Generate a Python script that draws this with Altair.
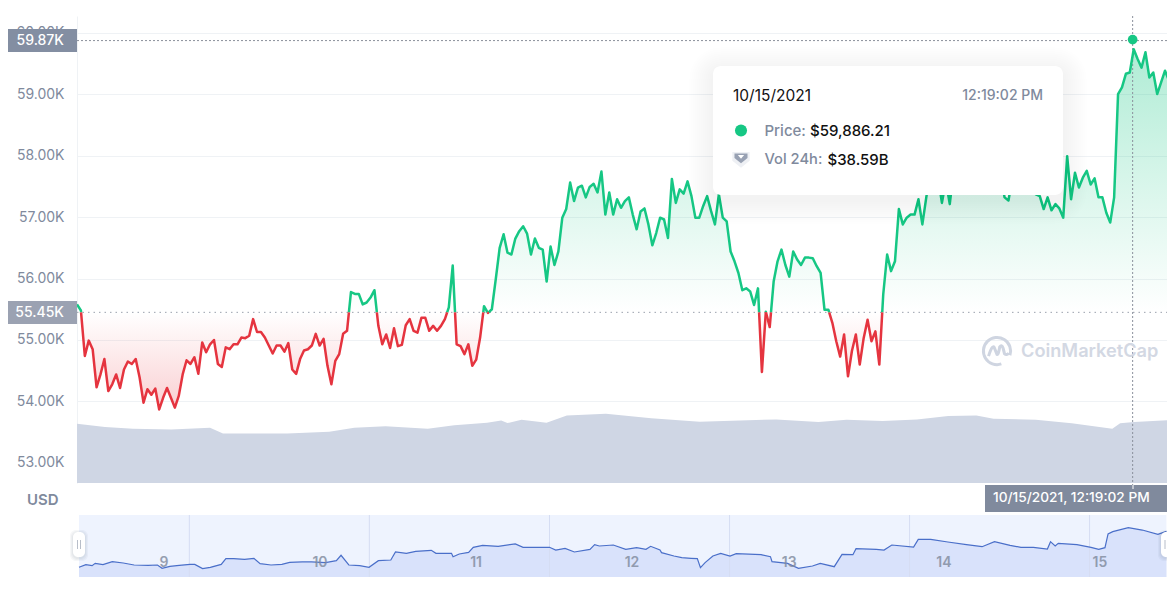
import altair as alt
import pandas as pd

# ---- main price series (USD thousands), one reading per regular time step
start_day = 8.456
step_day = 0.02504
prices = [
55.58,55.48,54.74,54.99,54.85,54.23,54.44,54.69,54.17,54.28,
54.44,54.22,54.52,54.65,54.61,54.69,54.39,53.98,54.20,54.11,
54.21,53.87,54.06,54.22,54.06,53.90,54.09,54.44,54.67,54.61,
54.72,54.45,54.96,54.80,54.93,55.00,54.61,54.56,54.88,54.85,
54.93,54.93,55.04,55.03,55.07,55.34,55.13,55.13,55.04,54.91,
54.78,54.91,54.91,54.81,54.95,54.52,54.45,54.69,54.83,54.85,
54.91,55.10,54.91,55.02,54.58,54.28,54.66,54.77,55.10,55.15,
55.78,55.75,55.75,55.58,55.61,55.69,55.81,55.23,54.93,55.09,
54.87,55.19,54.90,54.92,55.24,55.34,55.15,55.12,55.36,55.36,
55.15,55.23,55.15,55.23,55.34,55.53,56.21,54.93,54.90,54.77,
54.93,54.58,54.68,55.04,55.55,55.44,55.50,55.99,56.50,56.72,
56.42,56.39,56.65,56.77,56.85,56.73,56.39,56.65,56.50,56.47,
55.95,56.52,56.22,56.44,56.99,57.13,57.56,57.26,57.48,57.51,
57.32,57.49,57.54,57.40,57.74,57.04,57.40,57.04,57.29,57.15,
57.26,57.32,57.04,56.80,57.09,57.14,56.88,56.54,56.74,56.99,
56.96,56.66,57.62,57.23,57.45,57.38,57.58,57.34,56.99,56.99,
57.18,57.34,57.10,56.88,57.37,56.99,56.93,56.44,56.28,56.09,
55.81,55.84,55.79,55.57,55.84,54.48,55.46,55.21,55.95,56.28,
56.47,56.22,56.03,56.44,56.31,56.22,56.34,56.34,56.33,56.20,
56.09,55.49,55.49,55.28,54.98,54.73,55.09,54.41,54.82,55.09,
54.60,55.03,55.33,54.98,55.14,54.60,55.74,56.39,56.12,56.28,
57.13,56.88,56.99,57.04,57.04,57.29,56.88,57.32,57.70,57.80,
57.64,57.23,57.59,57.21,57.75,57.91,57.80,57.97,57.75,57.86,
58.02,57.86,57.80,57.97,57.75,57.91,57.70,57.32,57.27,57.64,
57.75,57.80,57.70,57.75,57.59,57.37,57.34,57.13,57.32,57.11,
57.21,57.14,56.99,57.99,57.29,57.72,57.48,57.64,57.75,57.53,
57.63,57.32,57.32,57.07,56.91,57.32,59.00,59.11,59.33,59.35,
59.73,59.57,59.43,59.68,59.27,59.35,59.00,59.19,59.38,59.22,
]
base_price = 55.45
hover_price_tag = 59.87
hover_price = 59.886
hover_day = 15.21

# ---- 24h volume (USD billions)
vol_days = [8.456,8.635,8.814,9.06,9.307,9.39,9.80,10.07,10.23,10.43,10.70,10.87,11.08,11.17,11.21,
            11.30,11.46,11.59,11.84,12.13,12.44,12.93,13.20,13.38,13.61,13.83,14.03,14.21,14.32,
            14.59,14.82,15.08,15.13,15.22,15.441]
vol_values = [40.1,37.9,36.8,36.3,37.4,33.6,33.6,34.7,37.4,38.4,36.8,39.1,40.8,42.4,40.6,
              42.9,40.8,45.8,46.9,43.8,41.5,43.1,41.3,42.9,42.0,43.1,45.4,45.8,43.5,
              42.9,40.4,36.8,40.4,41.3,42.6]

# ---- navigator series
nav_days = [8.456,8.50,8.54,8.56,8.61,8.67,8.74,8.81,8.90,8.96,8.99,9.04,9.10,9.17,9.20,9.25,9.30,9.37,9.40,9.45,
            9.52,9.58,9.62,9.69,9.76,9.81,9.89,9.95,10.04,10.11,10.14,10.19,10.26,10.32,10.38,10.46,10.49,10.56,
            10.62,10.72,10.75,10.85,10.86,10.90,10.96,10.99,11.05,11.15,11.26,11.31,11.39,11.48,11.52,11.58,11.64,
            11.74,11.77,11.80,11.89,11.97,12.04,12.10,12.13,12.19,12.20,12.28,12.33,12.39,12.43,12.45,12.48,12.53,
            12.58,12.64,12.68,12.84,12.90,12.91,13.01,13.08,13.17,13.22,13.31,13.36,13.43,13.45,13.58,13.63,13.68,
            13.82,13.85,13.93,14.04,14.16,14.26,14.34,14.44,14.51,14.59,14.68,14.70,14.73,14.75,14.87,14.96,15.01,
            15.05,15.07,15.10,15.20,15.29,15.39,15.445]
nav_values = [53.75,54.09,53.96,54.26,54.09,54.48,54.31,54.05,54.01,54.05,53.62,53.88,54.01,54.13,54.13,53.58,53.75,54.13,54.87,54.87,
              54.78,54.91,54.22,54.05,54.13,54.39,54.44,54.44,54.35,54.61,55.30,54.05,53.96,53.75,54.61,54.69,55.73,55.55,
              55.81,55.94,55.55,55.55,55.12,55.47,55.68,56.33,56.59,56.46,56.76,56.33,56.33,56.33,55.98,56.20,55.73,
              56.07,56.67,56.50,56.63,56.07,56.28,56.07,56.46,55.98,55.64,55.21,54.99,54.91,54.87,53.70,54.35,55.21,
              55.55,55.21,55.51,55.38,55.12,54.48,54.26,53.62,53.92,54.26,53.83,55.42,55.38,56.16,56.07,55.98,56.63,
              56.37,57.36,57.36,57.02,56.67,56.41,57.06,56.59,56.33,56.33,56.11,57.06,56.50,56.84,56.67,56.33,56.07,
              56.28,58.05,58.35,58.87,58.56,58.01,58.39]
nav_floor = 52.5
nav_grid_days = [9.165,10.322,11.480,12.637,13.794,14.951]
nav_label_days = [9.002,10.005,11.008,12.01,13.02,14.015,15.017]
nav_label_text = ["9","10","11","12","13","14","15"]
day_ticks = [9,10,11,12,13,14,15]
price_ticks = [53,54,55,56,57,58,59,60]

GREEN = "#16c784"
RED = "#e5343f"
GREY = "#808a9d"
FONT = "Inter"
W, H = 1093, 467
LEFT, TOP = 77, 15

# split the price line at each crossing of the base price
days = [start_day + step_day * i for i in range(len(prices))]
seg_rows, area_rows = [], []
seg = 0
for i, (d, p) in enumerate(zip(days, prices)):
    if i:
        d0, p0 = days[i - 1], prices[i - 1]
        if (p0 - base_price) * (p - base_price) < 0:
            dc = d0 + (d - d0) * (base_price - p0) / (p - p0)
            seg_rows.append(dict(d=dc, p=base_price, s=seg, up=p0 > base_price))
            area_rows.append(dict(d=dc, hi=base_price, lo=base_price, b=base_price))
            seg += 1
            seg_rows.append(dict(d=dc, p=base_price, s=seg, up=p > base_price))
    seg_rows.append(dict(d=d, p=p, s=seg, up=p > base_price))
    area_rows.append(dict(d=d, hi=max(p, base_price), lo=min(p, base_price), b=base_price))
segs = pd.DataFrame(seg_rows)
areas = pd.DataFrame(area_rows)
vol = pd.DataFrame(dict(d=vol_days, v=vol_values))
one = pd.DataFrame(dict(a=[0]))

xs = alt.Scale(domain=[8.456, 15.449], nice=False, zero=False)
ys = alt.Scale(domain=[52.674, 60.27], nice=False, zero=False)
X = alt.X("d:Q", scale=xs, axis=None)
def Yp(f):
    return alt.Y(f, type="quantitative", scale=ys, axis=None)
Y2 = alt.Y2("b:Q")

def rect(x0, y0, x1, y1, **kw):
    return alt.Chart(one).mark_rect(**kw).encode(
        x=alt.value(x0 - LEFT), x2=alt.value(x1 - LEFT), y=alt.value(y0 - TOP), y2=alt.value(y1 - TOP))

def label(x, y, s, **kw):
    opts = dict(font=FONT, fontSize=14, fontWeight=500, color=GREY, align="left", baseline="middle")
    opts.update(kw)
    return alt.Chart(one).mark_text(text=s, **opts).encode(x=alt.value(x - LEFT), y=alt.value(y - TOP))

def symbol(x, y, **kw):
    return alt.Chart(one).mark_point(**kw).encode(x=alt.value(x - LEFT), y=alt.value(y - TOP))

# axes and fills
green_area = alt.Chart(areas).mark_area(
    color=alt.Gradient(gradient="linear", x1=0, x2=0, y1=0, y2=1, stops=[
        alt.GradientStop(color="rgba(22,199,132,0.34)", offset=0),
        alt.GradientStop(color="rgba(22,199,132,0)", offset=1)])
).encode(
    x=alt.X("d:Q", scale=xs, axis=alt.Axis(
        values=day_ticks, format="d", grid=False, domain=False, tickSize=4, tickColor="#aab0bb",
        labelFont=FONT, labelFontSize=14, labelFontWeight=600, labelColor=GREY, labelPadding=6, labelOverlap=False, title=None)),
    y=alt.Y("hi:Q", scale=ys, axis=alt.Axis(
        values=price_ticks, labelExpr="format(datum.value,'.2f')+'K'", grid=True, gridColor="#eff2f5",
        domain=True, domainColor="#eff2f5", ticks=False, labelPadding=13,
        labelFont=FONT, labelFontSize=14, labelColor=GREY, labelOverlap=False, title=None)),
    y2=Y2)
red_area = alt.Chart(areas).mark_area(
    color=alt.Gradient(gradient="linear", x1=0, x2=0, y1=0, y2=1, stops=[
        alt.GradientStop(color="rgba(234,57,67,0)", offset=0),
        alt.GradientStop(color="rgba(234,57,67,0.24)", offset=1)])
).encode(x=X, y=Yp("lo:Q"), y2=Y2)

vol_area = alt.Chart(vol).mark_area(color="#cfd6e4").encode(
    x=X, y=alt.Y("v:Q", scale=alt.Scale(domain=[0, 316.4], nice=False, zero=False), axis=None))

base_rule = alt.Chart(pd.DataFrame(dict(p=[base_price]))).mark_rule(
    color="#9aa1ad", strokeWidth=1, strokeDash=[1.5, 4]).encode(y=Yp("p:Q"), x=alt.value(0), x2=alt.value(W))
hover_rule = alt.Chart(pd.DataFrame(dict(p=[hover_price_tag]))).mark_rule(
    color="#8a909b", strokeWidth=1, strokeDash=[2, 2]).encode(y=Yp("p:Q"), x=alt.value(0), x2=alt.value(W))
hover_v = alt.Chart(pd.DataFrame(dict(d=[hover_day]))).mark_rule(
    color="#8a909b", strokeWidth=1, strokeDash=[2, 2]).encode(x=X, y=alt.value(0), y2=alt.value(471))

green_line = alt.Chart(segs[segs.up]).mark_line(color=GREEN, strokeWidth=2.5, strokeJoin="round").encode(
    x=X, y=Yp("p:Q"), detail="s:N")
red_line = alt.Chart(segs[~segs.up]).mark_line(color=RED, strokeWidth=2.5, strokeJoin="round").encode(
    x=X, y=Yp("p:Q"), detail="s:N")
hover_dot = alt.Chart(pd.DataFrame(dict(d=[hover_day], p=[hover_price]))).mark_point(
    filled=True, color=GREEN, size=95, opacity=1).encode(x=X, y=Yp("p:Q"))

# watermark
logo_path = ("M0.95,0.32 A1,1 0 1 0 0.32,0.95 "
             "M-0.62,0.38 Q-0.35,-0.5 -0.2,-0.25 L0.0,0.25 Q0.1,0.3 0.2,-0.3 Q0.35,-0.5 0.45,-0.2 L0.55,0.2 Q0.7,0.35 0.85,0.15")
logo = symbol(997, 350, shape=logo_path, size=740, filled=False, stroke="#cfd5e1", strokeWidth=3, opacity=1)
wm = label(1021, 351, "CoinMarketCap", fontSize=18.2, fontWeight=600, color="#d3d8e3")

# tooltip card with a soft shadow
shadow = [rect(713 - e, 65 - e + 5, 1063 + e, 194 + e + 5, fill="#1a2340", opacity=0.0045, cornerRadius=8 + e)
          for e in range(2, 26, 2)]
card = rect(713, 65, 1063, 194, fill="white", cornerRadius=8)
tip = [
    label(733, 94.5, "10/15/2021", color="#111111", fontWeight=400, fontSize=15.5),
    label(1043, 95, "12:19:02 PM", fontSize=14, align="right"),
    symbol(741, 129.5, shape="circle", filled=True, color=GREEN, size=145, opacity=1),
    label(764.5, 130, "Price:", fontSize=15),
    label(810, 130, "$59,886.21", color="#111111", fontSize=15),
    symbol(741, 158, shape="M-1,-0.8 L1,-0.8 L1,0.2 L0,1 L-1,0.2 Z", filled=True, color="#eef0f4", size=300, opacity=1),
    symbol(741, 157, shape="M-1,-0.7 L1,-0.7 L1,0 L0,0.8 L-1,0 Z", filled=True, color="#98a1b3", size=170, opacity=1),
    symbol(741, 155.5, shape="M-1,-0.5 L1,-0.5 L0,0.7 Z", filled=True, color="white", size=40, opacity=1),
    label(764.5, 159, "Vol 24h:", fontSize=14.7),
    label(827.5, 159, "$38.59B", color="#111111", fontSize=15),
]

# value tags
tags = [
    rect(8, 28, 77, 51, fill="#838ea2"),
    label(64, 39.5, "59.87K", color="white", align="right"),
    rect(8, 300, 77, 323, fill="#9ba2b2"),
    label(64, 311.5, "55.45K", color="white", align="right"),
    label(27, 499, "USD", fontWeight=600, fontSize=15),
    rect(985, 484, 1170, 511, fill="#808a9d"),
    rect(1132.5, 484, 1133.5, 488, fill="white"),
    label(993, 496.5, "10/15/2021, 12:19:02 PM", color="white", fontSize=13.7),
]

main = alt.layer(
    green_area, red_area, vol_area, base_rule, hover_rule, hover_v, green_line, red_line, hover_dot,
    logo, wm, *shadow, card, *tip, *tags
).resolve_scale(y="independent").properties(width=W, height=H)

# navigator
nav_x = alt.Scale(domain=[8.443, 15.468], nice=False, zero=False)
nav_y = alt.Scale(domain=[nav_floor, 60.5], nice=False, zero=False)
NX = alt.X("d:Q", scale=nav_x, axis=None)
NY = alt.Y("v:Q", scale=nav_y, axis=None)
nav_df = pd.DataFrame(dict(d=nav_days, v=nav_values, b=[nav_floor] * len(nav_days)))
NH = 62

def nrect(x0, y0, x1, y1, **kw):
    return alt.Chart(one).mark_rect(**kw).encode(
        x=alt.value(x0 - LEFT), x2=alt.value(x1 - LEFT), y=alt.value(y0 - 515), y2=alt.value(y1 - 515))

nav_bg = alt.Chart(pd.DataFrame(dict(d=[8.456], e=[15.445]))).mark_rect(color="#eef3fe").encode(
    x=NX, x2="e:Q", y=alt.value(0), y2=alt.value(NH))
nav_area = alt.Chart(nav_df).mark_area(color="#d9e2fb").encode(x=NX, y=NY, y2="b:Q")
nav_grid = alt.Chart(pd.DataFrame(dict(d=nav_grid_days))).mark_rule(color="#d5ddf3", strokeWidth=1).encode(
    x=NX, y=alt.value(0), y2=alt.value(NH))
nav_line = alt.Chart(nav_df).mark_line(color="#4a6fc9", strokeWidth=1.2).encode(x=NX, y=NY)
nav_labels = alt.Chart(pd.DataFrame(dict(d=nav_label_days, t=nav_label_text))).mark_text(
    font=FONT, fontSize=14, fontWeight=600, color="#808a9d", opacity=0.8, baseline="middle").encode(
    x=NX, y=alt.value(48), text="t:N")
handles = []
for x0, x1 in [(73, 85), (1161, 1172)]:
    for e in (3, 2, 1):
        handles.append(nrect(x0 - e, 532 - e + 1, x1 + e, 557 + e + 1, fill="#58667e", opacity=0.05, cornerRadius=6))
    handles.append(nrect(x0, 532, x1, 557, fill="white", cornerRadius=5))
    cx = (x0 + x1) / 2
    handles.append(nrect(cx - 2, 540, cx - 1, 549, fill="#b8bec9"))
    handles.append(nrect(cx + 1, 540, cx + 2, 549, fill="#b8bec9"))

nav = alt.layer(nav_bg, nav_area, nav_grid, nav_line, nav_labels, *handles).resolve_scale(y="independent").properties(width=W, height=NH)

# the page column is 1159px wide: the negative right padding keeps the chart at scale 1
chart = alt.vconcat(main, nav, spacing=2).properties(
    padding={"left": 0, "top": 7, "right": -8, "bottom": 0}, background="white"
).configure_view(stroke=None)

chart.save("out.html", embed_options={"renderer": "svg", "actions": False})
